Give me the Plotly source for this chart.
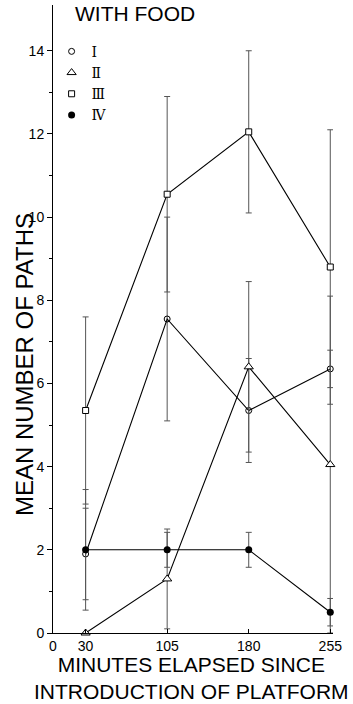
import plotly.graph_objects as go

minutes = [30, 105, 180, 255]
x_ticks = [0, 30, 105, 180, 255]
y_ticks = [0, 2, 4, 6, 8, 10, 12, 14]

series_names = ["Ⅰ", "Ⅱ", "Ⅲ", "Ⅳ"]
mean_I = [1.9, 7.55, 5.35, 6.35]
err_I = [1.1, 2.45, 1.25, 0.45]
mean_II = [0.0, 1.3, 6.4, 4.05]
err_II = [0.0, 1.2, 2.05, 4.05]
mean_III = [5.35, 10.55, 12.05, 8.8]
err_III = [2.25, 2.35, 1.95, 3.3]
mean_IV = [2.0, 2.0, 2.0, 0.5]
err_IV = [1.45, 0.42, 0.42, 0.33]

styles = [
    dict(symbol="circle-open", size=6, color="black"),
    dict(symbol="triangle-up", size=8, color="white", line=dict(color="black", width=1)),
    dict(symbol="square", size=6, color="white", line=dict(color="black", width=1)),
    dict(symbol="circle", size=7, color="black"),
]
means = [mean_I, mean_II, mean_III, mean_IV]
errs = [err_I, err_II, err_III, err_IV]

fig = go.Figure()
for name, m, e, st in zip(series_names, means, errs, styles):
    fig.add_trace(go.Scatter(
        x=minutes, y=m, mode="lines+markers", name=name, showlegend=False,
        line=dict(color="black", width=1.1),
        marker=st,
        error_y=dict(type="data", array=e, visible=True, color="#555555",
                     thickness=1, width=3),
        cliponaxis=False,
    ))
# legend entries (markers only)
for name, st in zip(series_names, styles):
    fig.add_trace(go.Scatter(x=[None], y=[None], mode="markers", name=name,
                             marker=st, showlegend=True))

fig.update_layout(
    width=353, height=704, autosize=False,
    margin=dict(l=53, r=20, t=5, b=71),
    paper_bgcolor="white", plot_bgcolor="white",
    font=dict(family="Liberation Sans, Arial, sans-serif", color="black"),
    showlegend=True,
    legend=dict(x=-0.005, y=0.951, xanchor="left", yanchor="top",
                bgcolor="rgba(0,0,0,0)", borderwidth=0, tracegroupgap=0,
                font=dict(family="DejaVu Serif, Noto Sans CJK JP, serif", size=14),
                itemwidth=30),
)
fig.update_xaxes(
    range=[0, 257.5], showgrid=False, zeroline=False,
    showline=True, linecolor="black", linewidth=1,
    tickmode="array", tickvals=x_ticks, ticktext=[str(v) for v in x_ticks],
    ticks="inside", ticklen=4, tickcolor="black",
    tickfont=dict(size=14, color="black"),
)
fig.update_yaxes(
    range=[0, 15.1], showgrid=False, zeroline=False,
    showline=True, linecolor="black", linewidth=1,
    tickmode="array", tickvals=y_ticks, ticktext=[str(v) for v in y_ticks],
    ticks="outside", ticklen=5, tickcolor="black",
    tickfont=dict(size=14, color="black"),
    minor=dict(tickvals=[1, 3, 5, 7, 9, 11, 13], ticks="outside", ticklen=3,
               tickcolor="black"),
)
fig.add_annotation(text="WITH FOOD", xref="paper", yref="paper",
                   x=0.0714, y=0.987, xanchor="left", yanchor="middle",
                   showarrow=False, font=dict(size=21))
fig.add_annotation(text="MEAN NUMBER OF PATHS", xref="paper", yref="paper",
                   x=-0.104, y=0.428, xanchor="center", yanchor="middle",
                   textangle=-90, showarrow=False, font=dict(size=24))
fig.add_annotation(text="MINUTES ELAPSED SINCE<br>INTRODUCTION OF PLATFORM",
                   xref="paper", yref="paper", x=0.496, y=-0.029,
                   xanchor="center", yanchor="top", showarrow=False,
                   font=dict(size=21))

fig.write_html("out.html", config={"displayModeBar": False},
               post_script="document.body.style.margin='0';document.body.style.overflow='hidden';")
